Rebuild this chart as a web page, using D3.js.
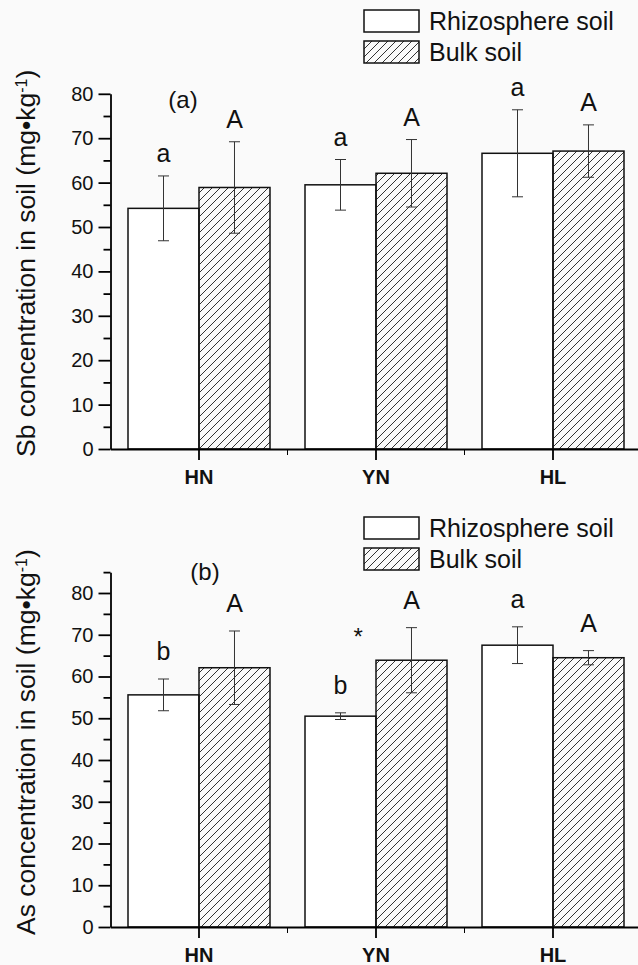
<!DOCTYPE html>
<html>
<head>
<meta charset="utf-8">
<script src="https://cdn.jsdelivr.net/npm/d3@7"></script>
<style>
  body { margin: 0; background: #fafafa; }
  text { font-family: "Liberation Sans", Arial, sans-serif; fill: #111; }
</style>
</head>
<body>
<div id="chart"></div>
<script>
// categories and series
const sites = ["HN", "YN", "HL"];
const soils = ["Rhizosphere soil", "Bulk soil"];

// (a) Sb, mg/kg
const sbRhizo = [54.2, 59.5, 66.6];
const sbRhizoErr = [7.3, 5.7, 9.8];
const sbBulk = [58.9, 62.1, 67.1];
const sbBulkErr = [10.3, 7.6, 5.9];
const sbLetters = [["a", "A"], ["a", "A"], ["a", "A"]];

// (b) As, mg/kg
const asRhizo = [55.6, 50.5, 67.5];
const asRhizoErr = [3.8, 0.8, 4.4];
const asBulk = [62.1, 63.9, 64.5];
const asBulkErr = [8.8, 7.8, 1.7];
const asLetters = [["b", "A"], ["b", "A"], ["a", "A"]];

const yTicks = [0, 10, 20, 30, 40, 50, 60, 70, 80];

const W = 638, H = 965;
const svg = d3.select("#chart").append("svg")
    .attr("width", W).attr("height", H);

// hatch for bulk soil
svg.append("defs").append("pattern")
    .attr("id", "hatch")
    .attr("patternUnits", "userSpaceOnUse")
    .attr("width", 8).attr("height", 8)
  .append("path")
    .attr("d", "M-2,2 l4,-4 M0,8 l8,-8 M6,10 l4,-4")
    .attr("stroke", "#333").attr("stroke-width", 1);

const x = d3.scaleBand().domain(sites).range([110.5, 641.5]).paddingInner(0).paddingOuter(0);
const xs = d3.scaleBand().domain(soils).range([0, x.bandwidth()]).paddingInner(0).paddingOuter(0.2465);

function panel(opt) {
  const g = svg.append("g");
  const y = d3.scaleLinear().domain([0, opt.yMax]).range([opt.y0, opt.y0 - opt.yMax * opt.pxPerUnit]);

  const rows = [];
  sites.forEach(function(s, i) {
    rows.push({site: s, soil: soils[0], v: opt.rhizo[i], e: opt.rhizoErr[i], letter: opt.letters[i][0]});
    rows.push({site: s, soil: soils[1], v: opt.bulk[i], e: opt.bulkErr[i], letter: opt.letters[i][1]});
  });

  // bars
  g.selectAll("rect.bar").data(rows).enter().append("rect")
      .attr("class", "bar")
      .attr("x", function(d) { return x(d.site) + xs(d.soil); })
      .attr("y", function(d) { return y(d.v); })
      .attr("width", xs.bandwidth())
      .attr("height", function(d) { return y(0) - y(d.v); })
      .attr("fill", function(d) { return d.soil === soils[1] ? "url(#hatch)" : "#fff"; })
      .attr("stroke", "#111").attr("stroke-width", 1.5);

  // error bars
  const eb = g.selectAll("g.err").data(rows).enter().append("g")
      .attr("class", "err")
      .attr("transform", function(d) { return "translate(" + (x(d.site) + xs(d.soil) + xs.bandwidth() / 2) + ",0)"; })
      .attr("stroke", "#333").attr("stroke-width", 1);
  eb.append("line").attr("y1", function(d) { return y(d.v - d.e); }).attr("y2", function(d) { return y(d.v + d.e); });
  eb.append("line").attr("x1", -5.5).attr("x2", 5.5)
      .attr("y1", function(d) { return y(d.v + d.e); }).attr("y2", function(d) { return y(d.v + d.e); });
  eb.append("line").attr("x1", -5.5).attr("x2", 5.5)
      .attr("y1", function(d) { return y(d.v - d.e); }).attr("y2", function(d) { return y(d.v - d.e); });

  // significance letters
  g.selectAll("text.letter").data(rows).enter().append("text")
      .attr("class", "letter")
      .attr("x", function(d) { return x(d.site) + xs(d.soil) + xs.bandwidth() / 2; })
      .attr("y", function(d) { return y(d.v + d.e) - opt.letterGap; })
      .attr("text-anchor", "middle")
      .style("font-size", "25px")
      .text(function(d) { return d.letter; });

  // y axis
  const yAxis = g.append("g").attr("transform", "translate(110.5,0)")
      .call(d3.axisLeft(y).tickValues(yTicks).tickSize(12).tickSizeOuter(0).tickPadding(5));
  yAxis.selectAll("text").style("font-size", "20px").style("font-family", "Liberation Sans, Arial, sans-serif").attr("fill", "#111");
  g.append("g").attr("transform", "translate(110.5,0)")
      .call(d3.axisLeft(y).tickValues(d3.range(5, opt.yMax + 1, 10)).tickSize(7).tickFormat(""))
      .select(".domain").remove();

  // x axis
  const xAxis = g.append("g").attr("transform", "translate(0," + y(0) + ")")
      .call(d3.axisBottom(x).tickSize(11).tickSizeOuter(0).tickPadding(10));
  xAxis.selectAll("text").style("font-size", "20px").style("font-weight", "bold")
      .style("font-family", "Liberation Sans, Arial, sans-serif").attr("fill", "#111");
  g.selectAll("line.xminor").data(sites.slice(0, 2)).enter().append("line")
      .attr("class", "xminor")
      .attr("x1", function(d) { return x(d) + x.bandwidth(); })
      .attr("x2", function(d) { return x(d) + x.bandwidth(); })
      .attr("y1", y(0)).attr("y2", y(0) + 6)
      .attr("stroke", "#000");
  g.selectAll(".domain, .tick line").attr("stroke-width", 1.8);

  // y title
  const t = g.append("text")
      .attr("transform", "translate(35," + (y(0) + 8) + ") rotate(-90)")
      .style("font-size", "26.5px");
  t.append("tspan").text(opt.element + " concentration in soil (mg\u2022kg");
  t.append("tspan").attr("baseline-shift", "super").style("font-size", "16px").text("-1");
  t.append("tspan").text(")");

  // panel tag
  g.append("text").attr("x", opt.tagX).attr("y", opt.tagY)
      .attr("text-anchor", "middle").style("font-size", "24px").text(opt.tag);

  // legend
  const lg = g.selectAll("g.leg").data(soils).enter().append("g")
      .attr("class", "leg")
      .attr("transform", function(d, i) { return "translate(364," + (opt.legY + i * 31) + ")"; });
  lg.append("rect").attr("width", 55).attr("height", 22)
      .attr("fill", function(d, i) { return i ? "url(#hatch)" : "#fff"; })
      .attr("stroke", "#111").attr("stroke-width", 1.5);
  lg.append("text").attr("x", 65).attr("y", 20).style("font-size", "25px").text(function(d) { return d; });

  return {g: g, y: y};
}

panel({element: "Sb", rhizo: sbRhizo, rhizoErr: sbRhizoErr, bulk: sbBulk, bulkErr: sbBulkErr,
  letters: sbLetters, y0: 449, yMax: 80, pxPerUnit: 4.44, letterGap: 14,
  tag: "(a)", tagX: 183, tagY: 108, legY: 10});

const pb = panel({element: "As", rhizo: asRhizo, rhizoErr: asRhizoErr, bulk: asBulk, bulkErr: asBulkErr,
  letters: asLetters, y0: 927, yMax: 85, pxPerUnit: 4.175, letterGap: 19,
  tag: "(b)", tagX: 205, tagY: 580, legY: 517});

// asterisk between YN bars in (b)
pb.g.append("text")
    .attr("x", x("YN") + xs(soils[0]) + xs.bandwidth() * 0.75)
    .attr("y", pb.y(asBulk[1] + asBulkErr[1]) + 17)
    .attr("text-anchor", "middle").style("font-size", "24px").text("*");
</script>
</body>
</html>
